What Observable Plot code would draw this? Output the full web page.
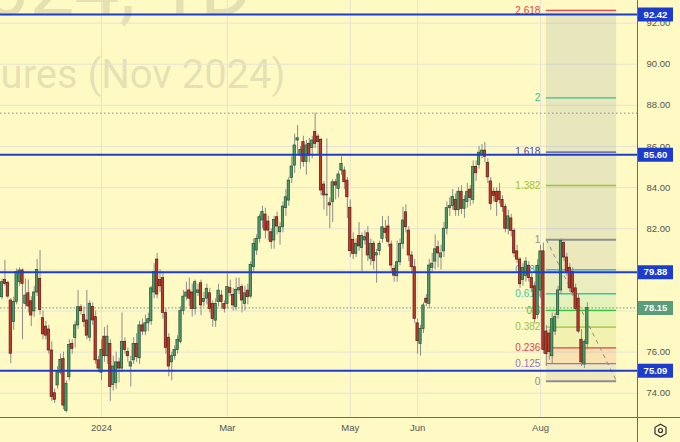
<!DOCTYPE html>
<html><head><meta charset="utf-8">
<script src="https://cdn.jsdelivr.net/npm/d3@7"></script>
<script src="https://cdn.jsdelivr.net/npm/@observablehq/plot@0.6"></script>
<style>
html,body{margin:0;padding:0;background:#fff9c4;}
#chart{width:680px;height:442px;overflow:hidden;}
</style></head><body><div id="chart"></div>
<script>
// ---- data ----
const opens = [
78.67,79.51,79.37,78.51,77.46,78.43,79.40,79.97,78.35,78.86,
78.47,77.98,78.90,79.56,77.65,77.24,77.10,76.08,74.00,74.38,
75.00,75.67,73.13,74.78,76.40,76.69,77.30,78.18,77.80,77.54,
76.70,78.20,77.70,75.60,75.00,76.75,75.80,76.40,74.40,74.50,
75.50,75.20,76.50,76.00,75.30,75.60,76.40,75.70,77.30,77.00,
77.40,77.50,78.90,80.50,79.50,79.60,77.90,76.70,75.50,75.80,
76.10,76.50,78.00,78.70,79.00,78.90,78.10,78.87,79.35,78.43,
78.60,78.86,78.34,77.53,78.43,78.75,78.34,78.34,79.11,78.79,
78.19,79.00,79.16,78.34,78.99,78.70,80.13,80.94,81.51,82.40,
82.69,82.35,81.83,81.43,82.56,81.83,82.07,83.00,83.37,84.47,
85.07,86.29,85.56,86.21,85.24,86.13,85.92,86.70,86.48,86.32,
84.15,83.62,83.24,83.29,84.26,83.94,84.83,84.83,84.34,83.02,
81.46,80.78,81.64,81.06,81.43,81.78,80.54,81.27,80.70,80.91,
81.51,82.00,82.11,81.23,80.05,79.69,80.37,81.26,82.80,81.91,
80.70,80.13,77.40,76.40,77.13,78.60,78.35,80.10,80.40,81.10,
80.60,80.90,82.00,83.00,83.10,83.40,82.90,83.80,82.97,83.30,
83.90,83.40,85.00,85.10,85.60,85.80,85.20,84.30,83.80,83.80,
83.80,83.40,83.05,82.00,82.50,81.90,80.90,80.50,79.50,79.70,
80.20,79.60,79.20,77.80,79.00,80.90,77.00,76.90,75.80,77.00,
77.80,79.00,81.30,80.60,80.10,79.90,79.10,78.60,76.60,75.40,
76.40];
const highs = [
79.56,80.46,79.45,78.60,78.67,80.05,80.10,80.05,79.56,79.51,
78.70,79.20,80.50,80.94,78.00,77.50,77.30,76.50,74.20,75.30,
75.90,76.00,74.60,76.60,76.60,77.50,79.00,78.30,78.20,79.00,
78.50,78.40,78.00,75.80,76.60,77.20,77.30,76.60,75.80,76.00,
75.70,77.90,76.70,76.20,75.80,76.70,76.90,77.50,77.60,77.80,
77.90,79.20,80.30,80.80,80.00,79.90,78.10,76.90,76.00,76.30,
76.80,78.20,79.00,79.40,79.60,79.30,79.50,79.30,79.50,78.90,
79.30,79.10,78.50,78.60,79.30,79.00,78.50,79.80,79.50,79.10,
79.60,79.60,79.30,79.20,79.30,80.40,81.50,81.70,82.70,83.10,
83.00,82.60,82.00,82.60,82.80,82.30,83.30,83.90,84.50,85.50,
86.60,87.02,86.00,86.50,86.30,86.40,86.50,87.62,86.60,86.40,
84.30,86.37,83.50,84.40,84.40,84.80,85.50,85.00,84.50,83.40,
81.80,81.50,82.30,81.80,81.90,82.10,81.50,81.40,81.00,81.40,
82.60,82.40,82.60,81.40,80.20,81.40,81.50,83.05,83.17,82.10,
80.90,80.50,77.60,77.30,78.40,78.80,80.50,80.80,81.70,81.40,
81.20,82.30,83.30,83.50,83.90,83.70,84.00,84.10,83.60,84.20,
84.10,85.30,85.30,86.00,86.10,86.20,85.40,84.50,84.00,84.00,
84.20,83.60,83.20,82.90,82.70,82.00,81.20,80.60,80.30,80.60,
80.40,79.80,79.40,80.50,81.20,81.30,77.30,77.10,77.90,77.90,
79.20,81.50,81.40,80.80,80.30,80.10,79.30,78.80,77.10,76.60,
78.40];
const lows = [
78.55,79.20,78.60,75.43,77.05,78.30,79.20,76.60,78.20,77.90,
77.24,77.70,78.70,77.80,76.60,76.60,75.90,73.60,73.50,74.20,
74.90,73.20,73.05,74.60,75.90,76.20,77.10,77.80,77.20,76.60,
76.50,77.30,75.40,75.00,74.60,75.50,75.40,73.60,74.10,74.20,
74.50,75.00,75.90,75.50,74.30,75.40,75.50,75.40,76.80,76.80,
77.00,77.30,78.60,78.60,78.90,77.60,75.90,74.80,74.60,75.60,
75.90,76.40,77.80,78.50,78.20,77.70,77.80,78.70,77.78,78.20,
78.30,77.90,77.20,77.20,78.20,78.10,77.90,78.10,78.70,78.00,
78.00,78.80,77.90,78.00,78.30,78.60,79.90,80.70,81.30,82.00,
81.50,81.40,81.00,81.00,81.70,81.20,81.80,82.60,83.10,84.20,
84.70,85.60,84.90,85.00,84.60,85.20,85.40,85.90,85.60,83.60,
82.90,82.60,82.00,82.30,83.40,83.50,84.60,83.90,82.50,80.60,
80.50,80.60,80.90,79.90,81.20,80.40,80.20,80.00,79.35,80.70,
81.30,81.50,81.10,79.90,79.40,79.40,80.20,81.00,81.80,80.40,
79.80,77.40,75.90,75.80,76.90,78.20,78.10,79.90,80.00,80.10,
80.00,80.60,81.70,82.60,82.90,82.60,82.60,82.70,82.50,83.00,
83.10,83.20,84.30,84.90,85.40,85.20,84.20,82.90,83.30,82.60,
83.20,82.80,81.80,81.70,81.60,80.60,80.30,79.10,79.20,79.40,
79.40,78.90,77.40,77.60,78.60,75.90,75.30,75.60,75.40,76.80,
77.60,78.80,80.40,79.70,78.90,78.70,78.00,76.90,75.30,75.20,
76.10];
const closes = [
79.40,79.32,78.70,75.92,78.43,79.89,79.97,79.32,78.75,78.22,
77.78,78.90,80.00,78.05,76.86,76.80,76.08,73.81,73.68,75.02,
75.62,73.40,74.46,76.35,76.16,77.30,78.18,77.99,77.46,76.80,
78.35,77.54,75.60,75.20,76.10,75.80,76.75,74.30,75.30,75.50,
75.20,76.50,76.10,75.80,75.50,76.40,75.75,77.30,77.00,77.40,
77.60,79.10,79.90,78.80,79.20,77.90,76.20,75.30,75.80,76.10,
76.60,78.00,78.70,78.90,78.60,78.10,79.40,79.00,78.27,78.59,
79.08,78.10,77.61,78.34,78.99,78.43,78.10,79.16,78.87,78.27,
79.03,79.11,78.51,78.86,78.67,80.24,81.26,81.51,82.56,82.81,
81.91,81.91,81.35,82.43,82.11,82.07,83.08,83.53,84.34,85.03,
86.05,86.40,85.83,85.24,86.05,85.56,86.29,86.13,86.21,83.86,
83.62,83.66,83.13,84.26,84.10,84.64,85.15,84.26,83.53,80.91,
80.78,81.27,81.14,81.64,81.59,80.70,81.27,80.42,80.81,81.27,
82.07,81.80,81.35,80.21,79.72,80.37,81.26,82.40,82.07,80.70,
80.13,77.62,76.53,77.13,78.27,78.40,80.21,80.30,81.00,80.80,
80.80,82.00,83.00,83.10,83.55,82.90,83.80,82.97,83.40,83.80,
83.50,85.00,84.70,85.70,85.80,85.50,84.50,83.20,83.60,83.30,
83.40,83.05,82.00,82.60,81.90,80.80,80.50,79.30,80.10,80.40,
79.60,79.10,77.60,80.20,80.90,76.10,75.90,76.00,77.60,77.70,
79.00,81.40,80.60,79.90,79.10,78.90,78.10,77.00,75.50,76.50,
78.15];

const tickBars   = [34, 77, 119, 142, 184];
const tickLabels = ["2024", "Mar", "May", "Jun", "Aug"];
const priceTicks = [74, 76, 78, 80, 82, 84, 86, 88, 90, 92];
const levelPrices = [92.42, 85.60, 79.88, 75.09];
const lastPrice = 78.15;
const highPrice = 87.62;
const fibRatios = [0, 0.125, 0.236, 0.382, 0.5, 0.618, 0.786, 1, 1.382, 1.618, 2, 2.618];
const fibLabels = ["0", "0.125", "0.236", "0.382", "0.5", "0.618", "0.786", "1", "1.382", "1.618", "2", "2.618"];
const fibLow = 74.58, fibHigh = 81.47;
const fibStartBar = 186, fibEndBar = 210;
const titleLine1 = "BRNX2024, 1D";
const titleLine2 = "Brent Crude Oil Futures (Nov 2024)";

// ---- styles ----
const BG = "#fff9c4";
const GRID = "#e6e3d6";
const BLUE = "#1c3dcc";
const LASTC = "#5b9c7b";
const UP = "#4f9b6d", UPD = "#1f4f33";
const DN = "#bf3a2c", DND = "#5c1710";
const WICK = "#8d8d8d";
const TXT = "#555555";
const fibColors = ["#8e8e8e","#8c76d2","#e04646","#9cc236","#38c43a","#3cc6a2","#3a9ad8","#8e8e8e","#9cc236","#4b4ba8","#2fc28e","#e04646"];
// fill of the band that ends at each level (index 1..11)
const bandColors = [null,"#9a8f9a","#e05a46","#a8c040","#5cc040","#48c090","#70a8a0","#7a8a90","#66789c","#66789c","#66789c","#66789c"];

// ---- derived ----
const candles = closes.map((c, i) => ({
  i, o: opens[i], c,
  h: Math.max(highs[i], opens[i], c),
  l: Math.min(lows[i], opens[i], c),
  up: c >= opens[i]
}));
const fib = fibRatios.map((r, k) => ({
  r, label: fibLabels[k], p: fibLow + r * (fibHigh - fibLow), color: fibColors[k],
  w: (r === 0 || r === 1) ? 2 : 1.3
}));
const bands = fib.slice(1).map((f, k) => ({y1: fib[k].p, y2: f.p, color: bandColors[k + 1]}));
const boxes = [...levelPrices.map(p => ({p, color: BLUE})), {p: lastPrice, color: LASTC}];
// price-scale labels that the coloured boxes cover completely are not drawn
const shownTicks = priceTicks.filter(t => !boxes.some(b => Math.abs(b.p - t) < 0.3));
const boxSymbol = {draw(ctx) { ctx.rect(-17.5, -7, 35, 14); }};

const chart = Plot.plot({
  width: 680, height: 442,
  marginLeft: 0, marginRight: 43, marginTop: 0, marginBottom: 25,
  style: {background: BG, fontFamily: "'Liberation Sans', Arial, sans-serif", overflow: "visible"},
  x: {domain: [-0.5125, 217.14]},
  y: {domain: [72.82, 93.10]},
  color: {type: "identity"},
  marks: [
    Plot.text([titleLine1], {frameAnchor: "top-left", dx: 252, dy: -42, text: d => d, textAnchor: "end", lineAnchor: "top", fontSize: 80, fontFamily: "Roboto", fill: "#7d7b6c", fillOpacity: 0.2}),
    Plot.text([titleLine2], {frameAnchor: "top-left", dx: 285, dy: 59, text: d => d, textAnchor: "end", lineAnchor: "top", fontSize: 40, fontFamily: "Roboto", fill: "#7d7b6c", fillOpacity: 0.2}),
    Plot.ruleY(priceTicks, {stroke: GRID, strokeWidth: 1}),
    Plot.ruleX(tickBars, {stroke: GRID, strokeWidth: 1}),
    Plot.rect(bands, {x1: () => fibStartBar, x2: () => fibEndBar, y1: "y1", y2: "y2", fill: "color", fillOpacity: 0.15}),
    Plot.ruleY(fib, {y: "p", x1: () => fibStartBar, x2: () => fibEndBar, stroke: "color", strokeWidth: "w"}),
    Plot.text(fib, {x: () => fibStartBar, y: "p", text: "label", fill: "color", textAnchor: "end", dx: -6, fontSize: 10}),
    Plot.link([0], {x1: () => fibStartBar, y1: () => fibHigh, x2: () => fibEndBar, y2: () => fibLow, stroke: "#8a8a8a", strokeWidth: 1, strokeDasharray: "4,4"}),
    Plot.ruleY([highPrice], {stroke: "#8f8f8f", strokeWidth: 1, strokeDasharray: "1.5,2.5"}),
    Plot.ruleY([lastPrice], {stroke: LASTC, strokeWidth: 1, strokeDasharray: "1.5,2"}),
    Plot.ruleX(candles, {x: "i", y1: "l", y2: "h", stroke: WICK, strokeWidth: 1}),
    Plot.rect(candles, {x1: d => d.i - 0.4, x2: d => d.i + 0.4, y1: "o", y2: "c",
      fill: d => d.up ? UP : DN, stroke: d => d.up ? UPD : DND, strokeWidth: 0.7}),
    Plot.ruleY(levelPrices, {stroke: BLUE, strokeWidth: 2}),
    Plot.axisY(shownTicks, {anchor: "right", tickSize: 0, tickPadding: 9, tickFormat: d => d.toFixed(2), fontSize: 9.5, fill: TXT, label: null}),
    Plot.axisX(tickBars, {anchor: "bottom", tickSize: 0, tickPadding: 7, tickFormat: d => tickLabels[tickBars.indexOf(d)], fontSize: 9.5, fill: TXT, label: null}),
    Plot.dot(boxes, {y: "p", frameAnchor: "right", dx: 18, symbol: boxSymbol, fill: "color", stroke: "none", r: 5}),
    Plot.text(boxes, {y: "p", frameAnchor: "right", dx: 18, textAnchor: "middle", text: d => d.p.toFixed(2), fill: "white", fontSize: 9.5, fontWeight: "bold"}),
    Plot.dot([0], {frameAnchor: "bottom-right", dx: 23, dy: 13, symbol: "hexagon", r: 5.5, fill: "none", stroke: "#333", strokeWidth: 1.2}),
    Plot.dot([0], {frameAnchor: "bottom-right", dx: 23, dy: 13, r: 2, fill: "none", stroke: "#333", strokeWidth: 1.2})
  ]
});

// chart frame borders (right price-scale divider and bottom time-scale divider)
const xr = chart.scale("x").range, yr = chart.scale("y").range;
const svg = d3.select(chart);
svg.append("line").attr("x1", xr[1] + 0.5).attr("x2", xr[1] + 0.5).attr("y1", 0).attr("y2", 442)
  .attr("stroke", "#6b6b6b").attr("stroke-width", 1);
svg.append("line").attr("x1", 0).attr("x2", 680).attr("y1", yr[0] + 0.5).attr("y2", yr[0] + 0.5)
  .attr("stroke", "#6b6b6b").attr("stroke-width", 1);

document.getElementById("chart").appendChild(chart);
</script>
</body></html>
